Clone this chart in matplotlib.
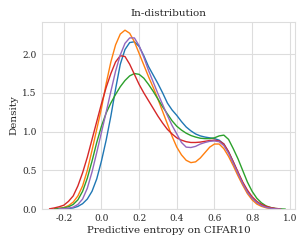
import numpy as np
import matplotlib
matplotlib.use("Agg")
import matplotlib.pyplot as plt

# x grid (step 0.025) from -0.300 to 1.000
x = [round(-0.300 + 0.025 * i, 3) for i in range(53)]
N = None
blue = [N, N, N, N,
        0.003, 0.007, 0.015, 0.035, 0.07, 0.13, 0.23, 0.39,
        0.62, 0.89, 1.20, 1.55, 1.87, 2.06, 2.15, 2.16,
        2.10, 1.98, 1.84, 1.73, 1.62, 1.50, 1.37, 1.28,
        1.21, 1.13, 1.06, 1.01, 0.97, 0.945, 0.93, 0.92,
        0.91, 0.89, 0.84, 0.74, 0.61, 0.47, 0.34, 0.23,
        0.145, 0.09, 0.05, 0.025, 0.012, 0.004, 0.0,
        N, N]
orange = [N, N,
          0.003, 0.008,
          0.02, 0.045, 0.09, 0.17, 0.30, 0.50, 0.76, 1.03,
          1.30, 1.62, 1.90, 2.12, 2.26, 2.31, 2.27, 2.16,
          2.01, 1.86, 1.71, 1.57, 1.42, 1.26, 1.10, 0.94,
          0.80, 0.70, 0.63, 0.60, 0.61, 0.66, 0.73, 0.80,
          0.84, 0.84, 0.78, 0.68, 0.56, 0.43, 0.31, 0.20,
          0.12, 0.065, 0.035, 0.017, 0.008, 0.003, 0.0,
          N, N]
green = [N, N,
         0.005, 0.009,
         0.016, 0.03, 0.06, 0.12, 0.23, 0.40, 0.62, 0.86,
         1.07, 1.24, 1.37, 1.48, 1.58, 1.66, 1.72, 1.75,
         1.74, 1.69, 1.61, 1.52, 1.42, 1.32, 1.23, 1.14,
         1.07, 1.02, 0.98, 0.95, 0.93, 0.915, 0.91, 0.91,
         0.92, 0.945, 0.955, 0.90, 0.78, 0.65, 0.50, 0.35,
         0.23, 0.14, 0.08, 0.04, 0.02, 0.008, 0.003, 0.0,
         N]
red = [N,
       0.004, 0.015, 0.03,
       0.05, 0.10, 0.17, 0.30, 0.47, 0.67, 0.90, 1.13,
       1.36, 1.57, 1.75, 1.90, 1.98, 1.97, 1.87, 1.74,
       1.61, 1.50, 1.40, 1.30, 1.20, 1.11, 1.03, 0.97,
       0.92, 0.89, 0.87, 0.86, 0.86, 0.865, 0.875, 0.885,
       0.89, 0.88, 0.84, 0.74, 0.61, 0.48, 0.35, 0.245,
       0.16, 0.10, 0.06, 0.035, 0.018, 0.008, 0.003,
       N, N]
purple = [N, N, N,
          0.003,
          0.006, 0.012, 0.025, 0.06, 0.13, 0.27, 0.48, 0.73,
          0.99, 1.25, 1.52, 1.78, 1.99, 2.14, 2.21, 2.21,
          2.11, 1.96, 1.79, 1.64, 1.49, 1.35, 1.21, 1.08,
          0.97, 0.86, 0.80, 0.795, 0.81, 0.84, 0.86, 0.875,
          0.88, 0.87, 0.82, 0.72, 0.59, 0.46, 0.33, 0.22,
          0.14, 0.085, 0.045, 0.022, 0.01, 0.003, 0.0,
          N, N]

series = [blue, orange, green, red, purple]
colors = ["#1f77b4", "#ff7f0e", "#2ca02c", "#d62728", "#9467bd"]

xticks = [-0.2, 0.0, 0.2, 0.4, 0.6, 0.8, 1.0]
yticks = [0.0, 0.5, 1.0, 1.5, 2.0]

plt.rcParams['font.family'] = ['DejaVu Serif']
fig = plt.figure(figsize=(3.07, 2.46), dpi=100)
ax = fig.add_axes([0.136, 0.150, 0.825, 0.762])
xs = np.array(x, dtype=float)
for s, c in zip(series, colors):
    assert len(s) == len(x)
    ys = np.array([np.nan if v is None else v for v in s], dtype=float)
    ax.plot(xs, ys, color=c, lw=1.0, solid_joinstyle="round")

ax.set_xlim(-0.317, 1.028)
ax.set_ylim(0, 2.42)
ax.set_xticks(xticks)
ax.set_yticks(yticks)
ax.set_xticklabels([f"{t:.1f}" for t in xticks])
ax.set_yticklabels([f"{t:.1f}" for t in yticks])
ax.grid(True, color="#dddddd", lw=0.8)
ax.set_axisbelow(True)
for sp in ax.spines.values():
    sp.set_color("#dddddd")
    sp.set_linewidth(0.8)
ax.tick_params(length=0, labelsize=6.5, colors="#262626", pad=3.5)
ax.set_xlabel("Predictive entropy on CIFAR10", fontsize=7.5, color="#262626", labelpad=2)
ax.set_ylabel("Density", fontsize=7.5, color="#262626", labelpad=3)
ax.set_title("In-distribution", fontsize=7.5, color="#262626", pad=4)
fig.savefig("out.png", dpi=100)
